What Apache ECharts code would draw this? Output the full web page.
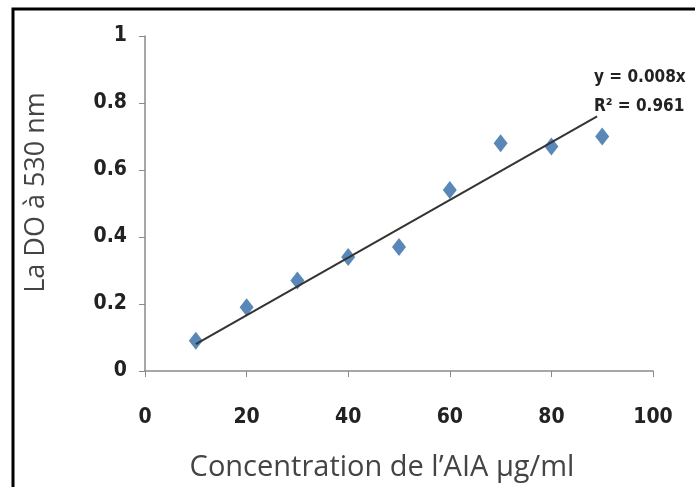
<!DOCTYPE html>
<html>
<head>
<meta charset="utf-8">
<script src="https://cdn.jsdelivr.net/npm/echarts@6/dist/echarts.min.js"></script>
<style>
  html, body { margin: 0; padding: 0; background: #fff; }
  #chart { width: 695px; height: 487px; }
</style>
</head>
<body>
<div id="chart"></div>
<script>
// concentration (µg/ml) vs optical density
let concentrations = [10, 20, 30, 40, 50, 60, 70, 80, 90];
let absorbance = [0.09, 0.19, 0.27, 0.34, 0.37, 0.54, 0.68, 0.67, 0.70];
let trendX = [10, 89];
let trendY = [0.08, 0.76];
let equationLines = ["y = 0.008x", "R² = 0.961"];

let chart = echarts.init(document.getElementById("chart"));

let tickFont = "'Liberation Sans Narrow', 'DejaVu Sans Condensed', sans-serif";

let option = {
    backgroundColor: "#fff",
    animation: false,
    grid: { left: 145, right: 42, top: 36, bottom: 116 },
    xAxis: {
        type: "value",
        min: 0, max: 100, interval: 20,
        name: "Concentration de l’AIA µg/ml",
        nameLocation: "middle",
        nameGap: 82,
        nameTextStyle: {
            fontFamily: "'Open Sans', sans-serif", fontSize: 29, color: "#444",
            padding: [0, 34, 0, 0]
        },
        axisLine: { lineStyle: { color: "#8a8a8a", width: 1.5 } },
        axisTick: { show: true, length: 6, inside: false, lineStyle: { color: "#8a8a8a" } },
        axisLabel: { margin: 36, fontFamily: tickFont, fontSize: 21, color: "#222", fontWeight: "bold" },
        splitLine: { show: false }
    },
    yAxis: {
        type: "value",
        min: 0, max: 1, interval: 0.2,
        name: "La DO à 530 nm",
        nameLocation: "middle",
        nameGap: 95,
        nameTextStyle: {
            fontFamily: "'Open Sans', sans-serif", fontSize: 27, color: "#444",
            padding: [0, 0, 0, 22]
        },
        axisLine: { show: true, lineStyle: { color: "#8a8a8a", width: 1.5 } },
        axisTick: { show: true, length: 6, lineStyle: { color: "#8a8a8a" } },
        axisLabel: {
            margin: 18, fontFamily: tickFont, fontSize: 21, color: "#222", fontWeight: "bold",
            formatter: v => String(Math.round(v * 10) / 10)
        },
        splitLine: { show: false }
    },
    graphic: [
        {
            type: "rect",
            shape: { x: 13, y: 9, width: 700, height: 500 },
            style: { fill: "none", stroke: "#000", lineWidth: 3 },
            z: 100
        },
        {
            type: "text",
            left: 594, top: 63,
            style: {
                text: equationLines.join("\n"),
                fontFamily: tickFont, fontSize: 17, lineHeight: 29,
                fill: "#222", fontWeight: "bold"
            }
        }
    ],
    series: [
        {
            name: "Trend",
            type: "line",
            data: trendX.map((x, i) => [x, trendY[i]]),
            symbol: "none",
            lineStyle: { color: "#333", width: 2 },
            z: 3
        },
        {
            name: "DO",
            type: "scatter",
            data: concentrations.map((x, i) => [x, absorbance[i]]),
            symbol: "diamond",
            symbolSize: [14, 18],
            itemStyle: { color: "#2f6aa6" },
            z: 2
        }
    ]
};

chart.setOption(option);
</script>
</body>
</html>
